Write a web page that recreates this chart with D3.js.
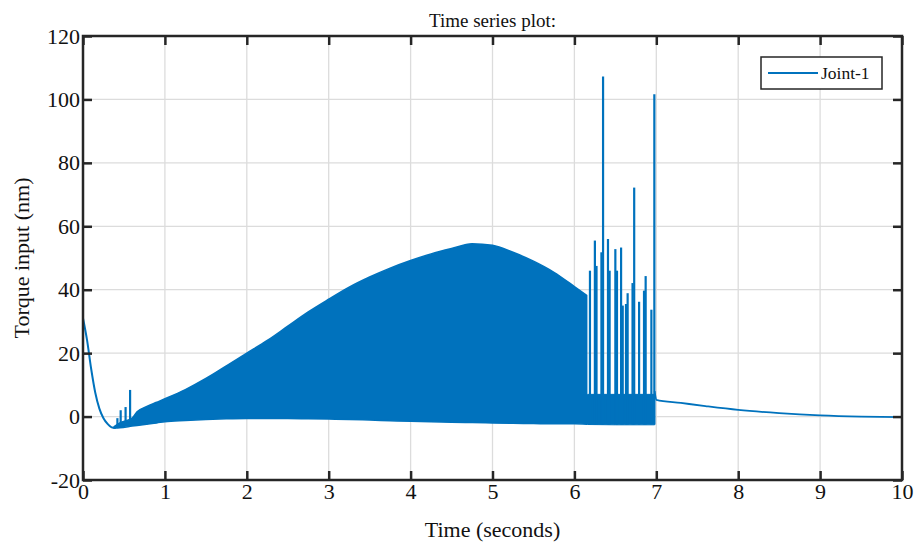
<!DOCTYPE html>
<html>
<head>
    <meta charset="utf-8">
    <script src="https://d3js.org/d3.v7.min.js"></script>
    <style>
        body { margin: 0; background: #fff; }
        text { font-family: "Liberation Serif", "Times New Roman", serif; fill: #111; }
        .grid line { stroke: #dcdcdc; stroke-width: 1.3px; }
        .axis line { stroke: #262626; stroke-width: 2.5px; }
        .axis path { display: none; }
        .axis text { font-size: 22px; }
    </style>
</head>
<body>
    <script>
        // axis ticks
        var xTicks = [0, 1, 2, 3, 4, 5, 6, 7, 8, 9, 10];
        var yTicks = [-20, 0, 20, 40, 60, 80, 100, 120];

        // start-up transient (seconds, Nm)
        var decayT = [0, 0.05, 0.1, 0.15, 0.2, 0.25, 0.3, 0.35, 0.4];
        var decayV = [31, 24, 15, 7.5, 2.5, -0.5, -2.3, -3.4, -3.6];

        // envelope of the fast oscillation (upper / lower limits)
        var bandT  = [0.38, 0.45, 0.6, 0.66, 0.78, 0.9, 1.0, 1.25, 1.5, 1.75, 2.0, 2.25, 2.5, 2.75, 3.0, 3.25, 3.5, 3.75, 4.0, 4.25, 4.5, 4.75, 5.0, 5.25, 5.5, 5.75, 6.0, 6.15];
        var bandHi = [-3.2, -2.0, -0.5, 1.5, 3.2, 4.5, 5.6, 8.5, 12, 16, 20, 24, 28.5, 33, 37, 40.8, 44, 46.8, 49.2, 51.3, 53, 54.5, 54, 51.8, 49, 45.5, 41, 38.2];
        var bandLo = [-3.6, -3.5, -3.0, -2.8, -2.4, -2.0, -1.6, -1.2, -0.9, -0.7, -0.6, -0.6, -0.6, -0.7, -0.8, -0.9, -1.1, -1.3, -1.5, -1.6, -1.8, -1.9, -2.0, -2.1, -2.2, -2.3, -2.3, -2.4];

        // burst between 6.15 s and 7 s: base band plus individual peaks
        var burstT  = [6.16, 6.5, 6.98];
        var burstHi = [7, 7, 7];
        var burstLo = [-2.5, -2.6, -2.6];
        var spikeT = [0.42, 0.46, 0.52, 0.575,
                      6.19, 6.25, 6.27, 6.33, 6.35, 6.41, 6.43, 6.5, 6.52, 6.57, 6.59, 6.63, 6.65, 6.71, 6.73, 6.79, 6.85, 6.87, 6.94, 6.976];
        var spikeV = [-0.5, 2, 3, 8.4,
                      46, 55.5, 47.5, 51.8, 107.2, 56, 46, 52.8, 46, 53.3, 35, 35.5, 38.9, 42.1, 72.2, 36.2, 39.7, 44.3, 33.7, 101.6];

        // slow decay after 7 s
        var tailT = [6.98, 7.0, 7.3, 7.6, 8.0, 8.5, 9.0, 9.5, 10.0];
        var tailV = [8, 5.3, 4.3, 3.3, 2.1, 1.1, 0.4, 0.0, -0.2];

        var W = 917, H = 549;
        var color = "#0072BD";

        var svg = d3.select("body").append("svg")
            .attr("width", W)
            .attr("height", H);

        var x = d3.scaleLinear().domain([0, 10]).range([83, 902]);
        var y = d3.scaleLinear().domain([-20, 120]).range([480, 36]);

        // grid
        var grid = svg.append("g").attr("class", "grid");
        grid.selectAll(".gx").data(xTicks.slice(1, -1)).enter().append("line")
            .attr("x1", function (d) { return x(d); }).attr("x2", function (d) { return x(d); })
            .attr("y1", y(-20)).attr("y2", y(120));
        grid.selectAll(".gy").data(yTicks.slice(1, -1)).enter().append("line")
            .attr("y1", function (d) { return y(d); }).attr("y2", function (d) { return y(d); })
            .attr("x1", x(0)).attr("x2", x(10));

        var plot = svg.append("g");

        // oscillation envelope
        var band = bandT.map(function (t, i) { return { t: t, hi: bandHi[i], lo: bandLo[i] }; });
        var area = d3.area()
            .curve(d3.curveMonotoneX)
            .x(function (d) { return x(d.t); })
            .y0(function (d) { return y(d.lo); })
            .y1(function (d) { return y(d.hi); });
        plot.append("path").datum(band)
            .attr("d", area)
            .attr("fill", color)
            .attr("stroke", color)
            .attr("stroke-width", 1.5);

        var burst = burstT.map(function (t, i) { return { t: t, hi: burstHi[i], lo: burstLo[i] }; });
        plot.append("path").datum(burst)
            .attr("d", area)
            .attr("fill", color)
            .attr("stroke", color)
            .attr("stroke-width", 1);

        // peaks
        plot.selectAll(".spike").data(spikeT).enter().append("line")
            .attr("x1", function (d) { return x(d); })
            .attr("x2", function (d) { return x(d); })
            .attr("y1", function (d) { return y(d < 1 ? -3 : -2.5); })
            .attr("y2", function (d, i) { return y(spikeV[i]); })
            .attr("stroke", color)
            .attr("stroke-width", 2.2);

        var line = d3.line()
            .curve(d3.curveMonotoneX)
            .x(function (d) { return x(d[0]); })
            .y(function (d) { return y(d[1]); });
        plot.append("path").datum(decayT.map(function (t, i) { return [t, decayV[i]]; }))
            .attr("d", line).attr("fill", "none").attr("stroke", color).attr("stroke-width", 2);
        plot.append("path").datum(tailT.map(function (t, i) { return [t, tailV[i]]; }))
            .attr("d", line).attr("fill", "none").attr("stroke", color).attr("stroke-width", 1.8);

        // axes with inward ticks on all four sides
        svg.append("g").attr("class", "axis")
            .attr("transform", "translate(0," + y(-20) + ")")
            .call(d3.axisBottom(x).tickValues(xTicks).tickSizeInner(-9).tickSizeOuter(0).tickPadding(3).tickFormat(String));
        svg.append("g").attr("class", "axis")
            .attr("transform", "translate(0," + y(120) + ")")
            .call(d3.axisTop(x).tickValues(xTicks).tickSizeInner(-9).tickSizeOuter(0).tickFormat(""));
        svg.append("g").attr("class", "axis")
            .attr("transform", "translate(" + x(0) + ",0)")
            .call(d3.axisLeft(y).tickValues(yTicks).tickSizeInner(-9).tickSizeOuter(0).tickPadding(3).tickFormat(String));
        svg.append("g").attr("class", "axis")
            .attr("transform", "translate(" + x(10) + ",0)")
            .call(d3.axisRight(y).tickValues(yTicks).tickSizeInner(-9).tickSizeOuter(0).tickFormat(""));

        svg.append("rect")
            .attr("x", x(0)).attr("y", y(120))
            .attr("width", x(10) - x(0)).attr("height", y(-20) - y(120))
            .attr("fill", "none")
            .attr("stroke", "#262626")
            .attr("stroke-width", 2.5);

        // labels
        svg.append("text")
            .attr("x", (x(0) + x(10)) / 2).attr("y", 27)
            .attr("text-anchor", "middle")
            .style("font-size", "19px")
            .text("Time series plot:");
        svg.append("text")
            .attr("x", (x(0) + x(10)) / 2).attr("y", 537)
            .attr("text-anchor", "middle")
            .style("font-size", "22px")
            .text("Time (seconds)");
        svg.append("text")
            .attr("transform", "translate(29," + (y(-20) + y(120)) / 2 + ") rotate(-90)")
            .attr("text-anchor", "middle")
            .style("font-size", "22px")
            .text("Torque input (nm)");

        // legend
        var lg = svg.append("g").attr("transform", "translate(761,57)");
        lg.append("rect")
            .attr("width", 121).attr("height", 32)
            .attr("fill", "#fff")
            .attr("stroke", "#262626")
            .attr("stroke-width", 1.5);
        lg.append("line")
            .attr("x1", 7).attr("x2", 57).attr("y1", 16).attr("y2", 16)
            .attr("stroke", color).attr("stroke-width", 2);
        lg.append("text")
            .attr("x", 60).attr("y", 22)
            .style("font-size", "17.5px")
            .text("Joint-1");
    </script>
</body>
</html>
